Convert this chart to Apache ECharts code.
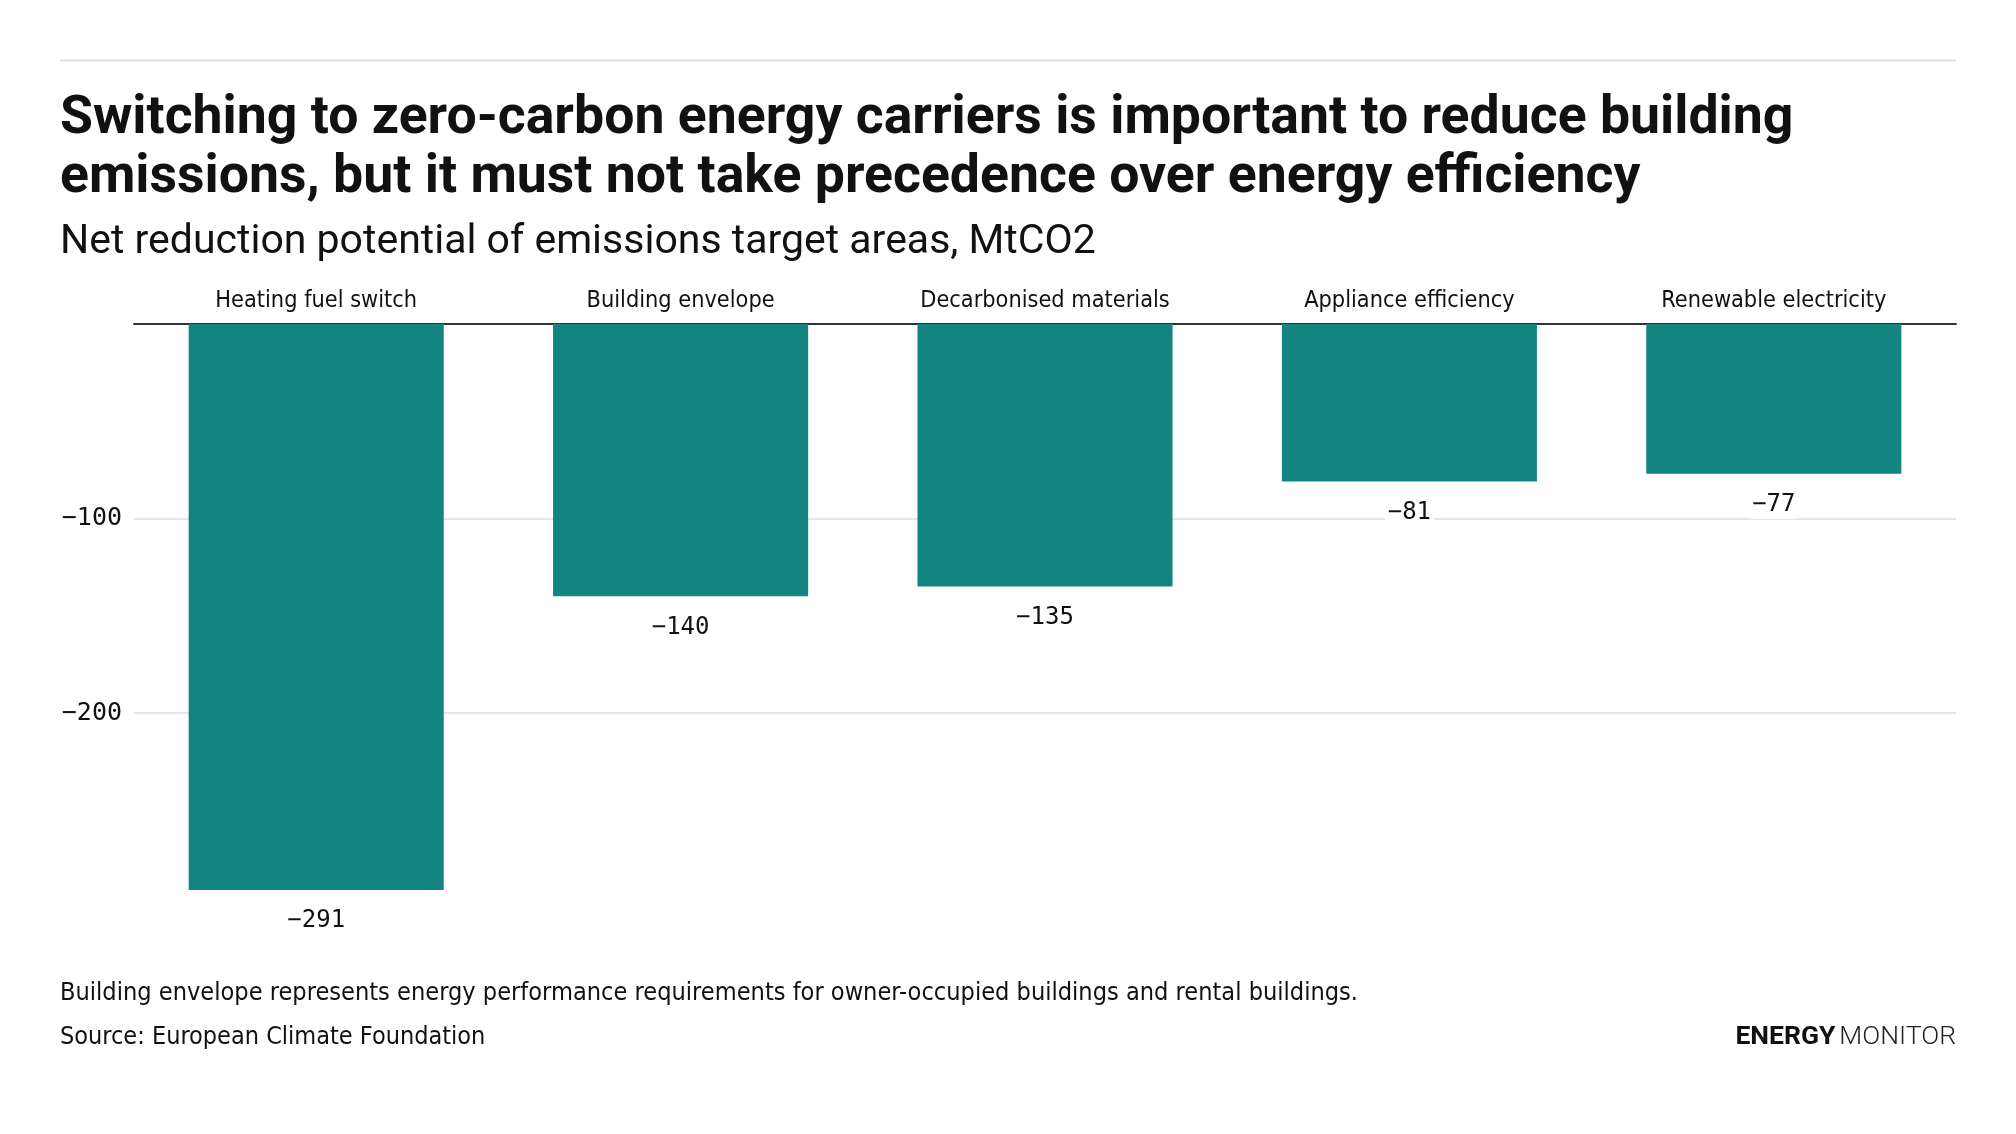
<!DOCTYPE html>
<html>
<head>
<meta charset="utf-8">
<style>
  html, body { margin: 0; padding: 0; background: #fff; }
  #chart { width: 2016px; height: 1134px; }
</style>
<script src="https://cdn.jsdelivr.net/npm/echarts@6/dist/echarts.min.js"></script>
</head>
<body>
<div id="chart"></div>
<script>
const titleText = 'Switching to zero-carbon energy carriers is important to reduce building\nemissions, but it must not take precedence over energy efficiency';
const subtitleText = 'Net reduction potential of emissions target areas, MtCO2';
const noteText = 'Building envelope represents energy performance requirements for owner-occupied buildings and rental buildings.';
const sourceText = 'Source: European Climate Foundation';
const categories = ['Heating fuel switch', 'Building envelope', 'Decarbonised materials', 'Appliance efficiency', 'Renewable electricity'];
const values = [-291, -140, -135, -81, -77];
const yMin = -300, yMax = 0, yStep = 100;

const NARROW = '"Liberation Sans Narrow", "DejaVu Sans Condensed", Roboto, sans-serif';
const MONO = '"DejaVu Sans Mono", "Liberation Mono", monospace';
const SANS = 'Roboto, "Noto Sans", sans-serif';
const minus = v => String(v).replace('-', '\u2212');

const chart = echarts.init(document.getElementById('chart'), null, { renderer: 'canvas' });
chart.setOption({
  backgroundColor: '#ffffff',
  animation: false,
  title: [
    { text: titleText, left: 60, top: 90, padding: 0,
      textStyle: { fontFamily: SANS, fontWeight: 'bold', fontSize: 53.6, lineHeight: 59, color: '#111' } },
    { text: subtitleText, left: 60, top: 219, padding: 0,
      textStyle: { fontFamily: SANS, fontWeight: 'normal', fontSize: 41, lineHeight: 48, color: '#111' } },
    { text: noteText, left: 60, top: 977, padding: 0,
      textStyle: { fontFamily: NARROW, fontWeight: 'normal', fontSize: 25.1, lineHeight: 32, color: '#111' } },
    { text: sourceText, left: 60, top: 1021, padding: 0,
      textStyle: { fontFamily: NARROW, fontWeight: 'normal', fontSize: 25, lineHeight: 32, color: '#111' } },
    { text: '{a|ENERGY}{b|MONITOR}', right: 60, top: 1023, padding: 0,
      textStyle: { rich: {
        a: { fontFamily: SANS, fontWeight: 'bold', fontSize: 26.5, lineHeight: 28, color: '#111' },
        b: { fontFamily: SANS, fontWeight: 300, fontSize: 26.5, lineHeight: 28, color: '#222', padding: [0, 0, 0, 4] }
      } } }
  ],
  graphic: [
    { type: 'line', shape: { x1: 60, y1: 60.5, x2: 1956, y2: 60.5 },
      style: { stroke: '#dddddd', lineWidth: 2 }, silent: true }
  ],
  grid: { left: 134, right: 60, top: 324, bottom: 226.5, containLabel: false },
  xAxis: {
    type: 'category', position: 'top', data: categories,
    axisLine: { show: true, lineStyle: { color: '#333', width: 2 } },
    axisTick: { show: false },
    axisLabel: { fontFamily: NARROW, fontSize: 23.3, color: '#111', margin: 12 }
  },
  yAxis: {
    type: 'value', min: yMin, max: yMax, interval: yStep,
    axisLine: { show: false }, axisTick: { show: false },
    axisLabel: { fontFamily: MONO, fontSize: 25, color: '#111', margin: 12, padding: [5, 0, 0, 0],
      formatter: v => (v === yMin || v === yMax) ? '' : minus(v) },
    splitLine: { show: true, showMinLine: false, showMaxLine: false,
      lineStyle: { color: '#e6e6e6', width: 2 } }
  },
  series: [{
    type: 'bar', data: values, barCategoryGap: '30%',
    itemStyle: { color: '#13847f' },
    label: { show: true, position: 'bottom', distance: 17,
      fontFamily: MONO, fontSize: 24, color: '#111',
      backgroundColor: '#ffffff', padding: [2, 3],
      formatter: p => minus(p.value) }
  }]
});
</script>
</body>
</html>
